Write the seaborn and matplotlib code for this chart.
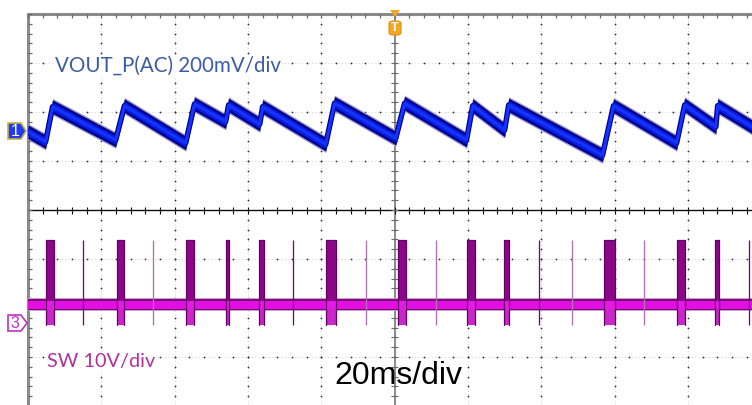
import numpy as np
import pandas as pd
import matplotlib
matplotlib.use("Agg")
import matplotlib.pyplot as plt
from matplotlib.patches import Polygon, FancyBboxPatch
import seaborn as sns

# ---------------- data ----------------
# Channel 1: VOUT_P (AC coupled), time in ms relative to trigger, value in mV
vout_t = [-100.0, -95.2, -93.3, -76.1, -73.7, -57.0, -54.6, -46.1, -45.3, -36.8,
          -36.0, -18.8, -16.4, 0.3, 2.7, 19.6, 21.3, 30.0, 31.1, 56.7,
          59.7, 76.9, 79.1, 87.6, 88.1, 97.5]
vout_mv = [-7, -48, 95, -41, 99, -53, 106, 34, 102, 24,
           95, -58, 109, -33, 109, -41, 99, 0, 102, -102,
           99, -53, 102, 13, 99, 13]

# Channel 3: SW node, switching bursts (ms) and isolated pulses (ms)
burst_start = [-95.2, -75.8, -56.8, -46.1, -37.1, -18.6, 0.8, 19.6, 29.7, 57.0, 77.0, 87.3]
burst_end = [-93.0, -73.7, -54.6, -45.3, -35.7, -16.1, 3.0, 21.8, 31.1, 60.0, 79.1, 88.4]
spike_dark = [-84.9, -27.6, 39.3, 96.6]
spike_light = [-65.8, -7.9, 11.2, 48.3, 67.9]
sw_idle_v = 3.7
sw_high_v = 16.9
sw_low_v = -0.4

labels = ["VOUT_P(AC) 200mV/div", "SW 10V/div", "20ms/div"]

# scope settings
ch1_scale = 200.0   # mV/div
ch3_scale = 10.0    # V/div
ch1_offset = 1.633  # div (ground marker position)
ch3_offset = -2.306 # div

# ---------------- figure ----------------
sns.set_theme(style="white")
plt.rcParams["font.family"] = ["DejaVu Sans"]

W, H = 752, 405
fig = plt.figure(figsize=(W / 100, H / 100), dpi=100)
fig.patch.set_facecolor("white")

px_div_x = 73.33
px_div_y = 49.0
left_px, top_px = 28, 14
ax = fig.add_axes([left_px / W, 0, (W - left_px) / W, (H - top_px) / H])
x0 = -100.0
x1 = x0 + (W - left_px) * 20.0 / px_div_x
y_top = 4.0
y_bot = -(H - 210) / px_div_y
ax.set_xlim(x0, x1)
ax.set_ylim(y_bot, y_top)
ax.set_axis_off()

# ---------------- graticule ----------------
pt = 0.72  # points per pixel
maj_x = np.arange(-100, 101, 20)
maj_y = np.arange(-4, 4.01, 1)
for gx in maj_x:
    ax.axvline(gx, color="#d8d8d8", lw=0.8, ls=(0, (1, 2)), zorder=0)
for gy in maj_y:
    ax.axhline(gy, color="#d8d8d8", lw=0.8, ls=(0, (1, 2)), zorder=0)
# dots at fifths
fx = np.arange(-100, 101, 4)
fy = np.arange(-4, 4.01, 0.2)
gxx, gyy = np.meshgrid(maj_x, fy)
ax.scatter(gxx.ravel(), gyy.ravel(), s=1.6, color="#303030", lw=0, zorder=1)
gxx, gyy = np.meshgrid(fx, maj_y)
ax.scatter(gxx.ravel(), gyy.ravel(), s=1.6, color="#303030", lw=0, zorder=1)

# center lines
ax.axhline(0, color="#101010", lw=1.0, zorder=1)
ax.axvline(0, color="#8a8a8a", lw=1.4, zorder=1)
tick_h = 3.5 / px_div_y
tick_w = 3.5 * 20 / px_div_x
ax.vlines(fx, -tick_h, tick_h, color="#101010", lw=0.8, zorder=1)
ax.hlines(fy, -tick_w, tick_w, color="#6a6a6a", lw=0.8, zorder=1)
# borders
ax.axhline(y_top, color="#8a8a8a", lw=2.2, clip_on=False, zorder=2)
ax.axvline(x0, color="#8a8a8a", lw=2.2, clip_on=False, zorder=2)
ax.vlines(fx, y_top - 4.0 / px_div_y, y_top, color="#6a6a6a", lw=0.9, zorder=2)
ax.hlines(fy, x0, x0 + 4.0 * 20 / px_div_x, color="#6a6a6a", lw=0.9, zorder=2)

# ---------------- channel 3 : SW ----------------
idle = ch3_offset + sw_idle_v / ch3_scale
high = ch3_offset + sw_high_v / ch3_scale
low = ch3_offset + sw_low_v / ch3_scale
pxy = 1.0 / px_div_y
ax.fill_between([x0, x1], idle - 6.5 * pxy, idle + 6.5 * pxy, color="#c8a0c8", lw=0, zorder=3)
ax.fill_between([x0, x1], idle - 5.5 * pxy, idle + 5.5 * pxy, color="#7a0a78", lw=0, zorder=3)
ax.fill_between([x0, x1], idle - 3.8 * pxy, idle + 3.5 * pxy, color="#e010e0", lw=0, zorder=3)
ax.vlines(spike_dark, low, high, color="#7d007d", lw=1.0 * pt * 1.3, zorder=4)
ax.vlines(spike_light, low, high, color="#b070b0", lw=1.0 * pt * 1.3, zorder=4)
for s, e in zip(burst_start, burst_end):
    ax.fill_between([s, e], idle, high, color="#8a0888", lw=0, zorder=4)
    ax.fill_between([s, e], low, idle, color="#c828c8", lw=0, zorder=4)
    ax.fill_between([s, e], idle - 3.8 * pxy, idle + 3.5 * pxy, color="#e818e8", lw=0, zorder=4)
    ax.plot([s, s, e, e], [low, high, high, low], color="#640064", lw=0.9, zorder=5)

# ---------------- channel 1 : VOUT ----------------
df = pd.DataFrame({"t": vout_t, "mv": vout_mv})
df["div"] = ch1_offset + df["mv"] / ch1_scale
hb = 6.8 * pxy
ax.fill_between(df["t"], df["div"] - hb - 1.5 * pxy, df["div"] + hb + 1.5 * pxy,
                color="#a0a0cc", lw=0, zorder=6)
ax.fill_between(df["t"], df["div"] - hb, df["div"] + hb, color="#000090", lw=0, zorder=7)
sns.lineplot(data=df, x="t", y="div", ax=ax, color="#000090", lw=5.5 * pt, zorder=8,
             estimator=None, sort=False, legend=False)
ax.fill_between(df["t"], df["div"] - 4.0 * pxy, df["div"] + 4.0 * pxy,
                color="#0a1ee0", lw=0, zorder=9)
sns.lineplot(data=df, x="t", y="div", ax=ax, color="#1434ff", lw=3.0 * pt, zorder=10,
             estimator=None, sort=False, legend=False)

# ---------------- texts ----------------
def fpx(x, y):
    return x / W, 1 - y / H

box = dict(facecolor="white", edgecolor="none", pad=1.0)
fig.text(*fpx(55, 72), labels[0], color="#3c5ca6", fontsize=14.8, family=["Lato", "DejaVu Sans"],
         va="baseline", ha="left", bbox=box)
fig.text(*fpx(47, 367), labels[1], color="#b3309c", fontsize=14.3, family=["Lato", "DejaVu Sans"],
         va="baseline", ha="left", bbox=box)
fig.text(*fpx(334, 384), labels[2], color="black", fontsize=23, family=["Liberation Sans", "DejaVu Sans"],
         va="baseline", ha="left")

# channel markers
p1 = [(8, 123), (21, 123), (26, 131), (21, 139), (8, 139)]
fig.add_artist(Polygon([fpx(*p) for p in p1], closed=True, transform=fig.transFigure,
                       facecolor="#1f3cf5", edgecolor="#c8b040", lw=1.2))
fig.text(*fpx(15, 131.5), "1", color="white", fontsize=11.5, ha="center", va="center",
         family=["Liberation Sans", "DejaVu Sans"])
p3 = [(8, 315), (21, 315), (27, 323), (21, 331), (8, 331)]
fig.add_artist(Polygon([fpx(*p) for p in p3], closed=True, transform=fig.transFigure,
                       facecolor="white", edgecolor="#c030c0", lw=1.2))
fig.text(*fpx(15, 323.5), "3", color="#c030c0", fontsize=11.5, ha="center", va="center",
         family=["Liberation Sans", "DejaVu Sans"])

# trigger marker
trig = [(390, 10), (400, 10), (395, 17)]
fig.add_artist(Polygon([fpx(*p) for p in trig], closed=True, transform=fig.transFigure,
                       facecolor="#f5a623", edgecolor="none"))
fig.add_artist(FancyBboxPatch(fpx(389, 35), 12 / W, 14 / H, boxstyle="round,pad=0.0,rounding_size=0.006",
                              transform=fig.transFigure, facecolor="#f5a623", edgecolor="#e09010", lw=0.8))
fig.text(*fpx(395, 28), "T", color="white", fontsize=9, ha="center", va="center", fontweight="bold",
         family=["Liberation Sans", "DejaVu Sans"])

fig.savefig("out.png", dpi=100, facecolor="white")
